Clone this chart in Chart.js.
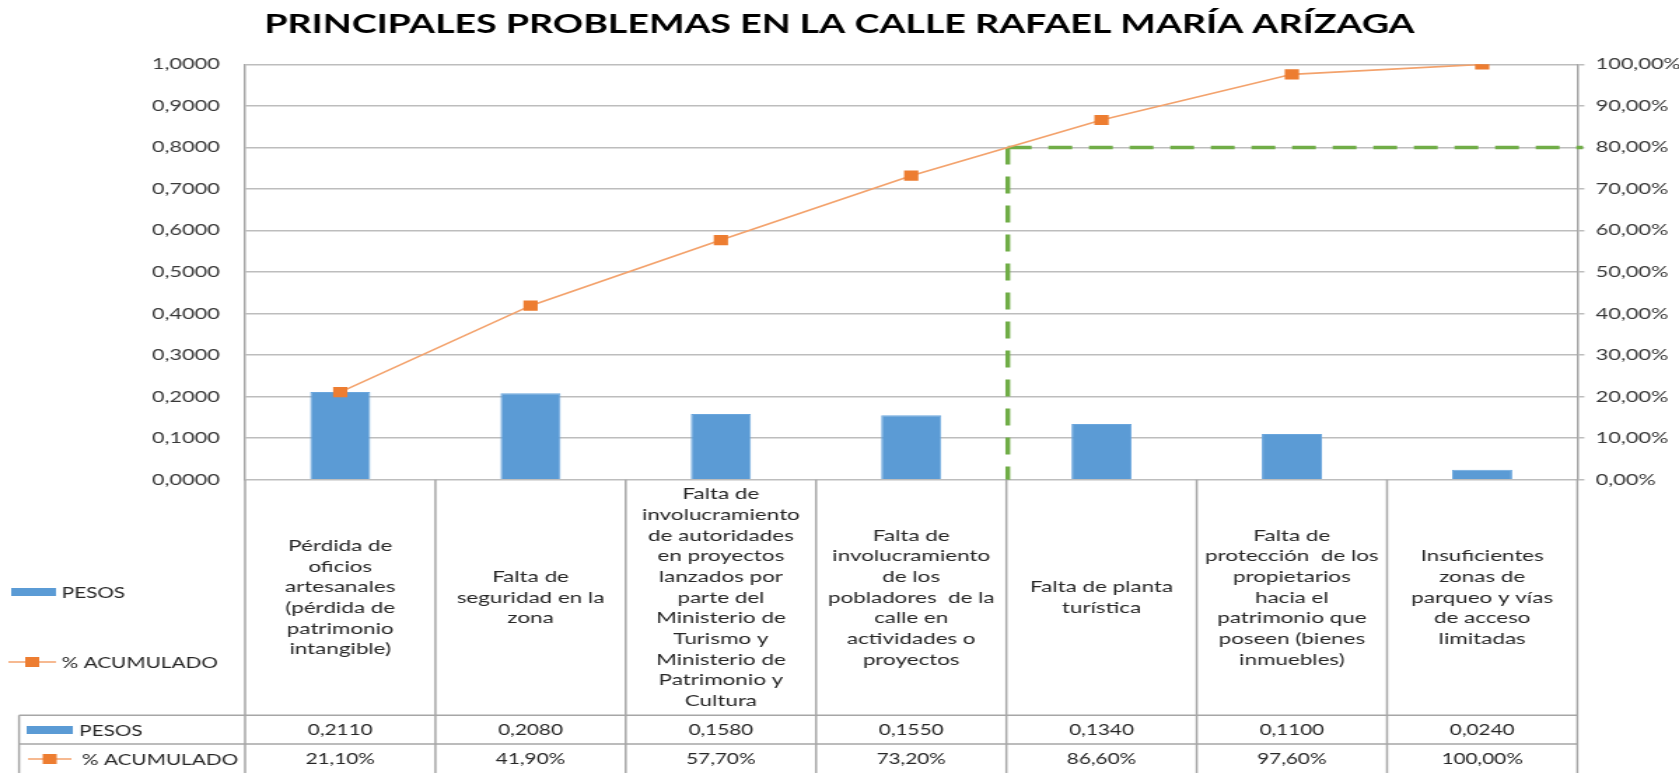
<!DOCTYPE html>
<html>
<head>
<meta charset="utf-8">
<script src="https://cdn.jsdelivr.net/npm/chart.js@4.4.1/dist/chart.umd.min.js"></script>
<style>
  html, body { margin: 0; padding: 0; background: #fff; overflow: hidden; }
  /* the reference is stretched sideways, so the canvas is drawn narrower and widened by css */
  #chart { display: block; width: 1679px !important; height: 773px !important; }
</style>
</head>
<body>
<canvas id="chart" width="1199" height="773" style="width:1679px;height:773px"></canvas>
<script>
var titleText = 'PRINCIPALES PROBLEMAS EN LA CALLE RAFAEL MARÍA ARÍZAGA';

var categories = [
  ['Pérdida de', 'oficios', 'artesanales', '(pérdida de', 'patrimonio', 'intangible)'],
  ['Falta de', 'seguridad en la', 'zona'],
  ['Falta de', 'involucramiento', 'de autoridades', 'en proyectos', 'lanzados por', 'parte del', 'Ministerio de', 'Turismo y', 'Ministerio de', 'Patrimonio y', 'Cultura'],
  ['Falta de', 'involucramiento', 'de los', 'pobladores  de la', 'calle en', 'actividades o', 'proyectos'],
  ['Falta de planta', 'turística'],
  ['Falta de', 'protección  de los', 'propietarios', 'hacia el', 'patrimonio que', 'poseen (bienes', 'inmuebles)'],
  ['Insuficientes', 'zonas de', 'parqueo y vías', 'de acceso', 'limitadas']
];

var seriesNames = ['PESOS', '% ACUMULADO'];
var pesos = [0.2110, 0.2080, 0.1580, 0.1550, 0.1340, 0.1100, 0.0240];
var acumulado = [21.10, 41.90, 57.70, 73.20, 86.60, 97.60, 100.00];
var paretoCut = 80;

var pesosTicks = { min: 0, max: 1, step: 0.1 };
var acumTicks = { min: 0, max: 100, step: 10 };

var blue = '#5B9BD5';
var orange = '#ED7D31';
var lineOrange = '#F3A26C';
var green = '#70AD47';
var gridGray = '#BDBDBD';
var tableGray = '#A6A6A6';
var textDark = '#262626';
var FONT = 'Lato';

function fmtPesos(v) { return v.toFixed(4).replace('.', ','); }
function fmtPct(v) { return v.toFixed(2).replace('.', ',') + '%'; }

// green dashed lines at the 80% cut
var paretoPlugin = {
  id: 'paretoCut',
  beforeDatasetsDraw: function (chart) {
    var ctx = chart.ctx, x = chart.scales.x, y1 = chart.scales.y1, area = chart.chartArea;
    var i = 0;
    while (i < acumulado.length - 1 && acumulado[i + 1] < paretoCut) i++;
    var frac = (paretoCut - acumulado[i]) / (acumulado[i + 1] - acumulado[i]);
    var xc = x.getPixelForValue(i) + frac * (x.getPixelForValue(i + 1) - x.getPixelForValue(i));
    var yc = y1.getPixelForValue(paretoCut);
    ctx.save();
    ctx.strokeStyle = green;
    ctx.lineWidth = 3.4;
    ctx.setLineDash([17, 12]);
    ctx.beginPath();
    ctx.moveTo(xc, yc);
    ctx.lineTo(xc, area.bottom);
    ctx.stroke();
    ctx.beginPath();
    ctx.moveTo(xc, yc);
    ctx.lineTo(area.right + 4, yc);
    ctx.stroke();
    ctx.restore();
  }
};

// data table under the plot plus the legend keys
var tablePlugin = {
  id: 'dataTable',
  afterDraw: function (chart) {
    var ctx = chart.ctx, x = chart.scales.x, area = chart.chartArea;
    var n = categories.length;
    var step = x.getPixelForValue(1) - x.getPixelForValue(0);
    var tableLeft = 13.6;
    var row1 = 715.3, row2 = 744, row3 = 773;
    var labelLH = 20.7;

    ctx.save();
    ctx.strokeStyle = tableGray;
    ctx.lineWidth = 1.5;
    ctx.beginPath();
    for (var i = 0; i <= n; i++) {
      var xx = area.left + i * step;
      ctx.moveTo(xx, area.bottom);
      ctx.lineTo(xx, row3);
    }
    ctx.moveTo(tableLeft, row1); ctx.lineTo(area.right, row1);
    ctx.moveTo(tableLeft, row2); ctx.lineTo(area.right, row2);
    ctx.moveTo(tableLeft, row1); ctx.lineTo(tableLeft, row3);
    ctx.stroke();

    // category labels
    ctx.fillStyle = textDark;
    ctx.textAlign = 'center';
    ctx.textBaseline = 'middle';
    ctx.font = '16px ' + FONT;
    var midY = (area.bottom + row1) / 2;
    chart.data.labels.forEach(function (lines, i) {
      var cx = x.getPixelForValue(i);
      var y0 = midY - (lines.length - 1) / 2 * labelLH;
      lines.forEach(function (t, k) { ctx.fillText(t, cx, y0 + k * labelLH); });
    });

    // values
    ctx.font = '14.8px ' + FONT;
    var r1 = (row1 + row2) / 2 + 1, r2 = (row2 + row3) / 2 + 1;
    for (var j = 0; j < n; j++) {
      var cxx = x.getPixelForValue(j);
      ctx.fillText(fmtPesos(pesos[j]), cxx, r1);
      ctx.fillText(fmtPct(acumulado[j]), cxx, r2);
    }

    // legend keys (outside and inside the table)
    function barKey(x0, x1, y) {
      ctx.fillStyle = blue;
      ctx.fillRect(x0, y - 4, x1 - x0, 8);
    }
    function lineKey(x0, x1, y) {
      ctx.strokeStyle = lineOrange;
      ctx.lineWidth = 1.5;
      ctx.beginPath(); ctx.moveTo(x0, y); ctx.lineTo(x1, y); ctx.stroke();
      ctx.fillStyle = orange;
      var m = (x0 + x1) / 2;
      ctx.fillRect(m - 5, y - 5, 10, 10);
    }
    ctx.textAlign = 'left';
    ctx.font = '14.8px ' + FONT;

    barKey(8, 40, 592);
    ctx.fillStyle = textDark; ctx.fillText(seriesNames[0], 44, 593);
    lineKey(6, 40, 662);
    ctx.fillStyle = textDark; ctx.fillText(seriesNames[1], 44, 663);

    barKey(19, 52, 730);
    ctx.fillStyle = textDark; ctx.fillText(seriesNames[0], 56.5, 731);
    lineKey(20, 51, 759);
    ctx.fillStyle = textDark; ctx.fillText(seriesNames[1], 58.5, 760);
    ctx.restore();
  }
};

var ctx = document.getElementById('chart').getContext('2d');
new Chart(ctx, {
  type: 'bar',
  data: {
    labels: categories,
    datasets: [
      {
        type: 'line',
        label: seriesNames[1],
        data: acumulado,
        yAxisID: 'y1',
        borderColor: lineOrange,
        borderWidth: 1.6,
        tension: 0,
        pointStyle: 'rect',
        pointRadius: 7.2,
        pointBackgroundColor: orange,
        pointBorderColor: orange,
        pointBorderWidth: 0,
        order: 0
      },
      {
        label: seriesNames[0],
        data: pesos,
        yAxisID: 'y',
        backgroundColor: blue,
        borderColor: '#6AA6DD',
        borderWidth: 1,
        barPercentage: 0.316,
        categoryPercentage: 1,
        order: 1
      }
    ]
  },
  options: {
    responsive: false,
    devicePixelRatio: 1,
    animation: false,
    layout: { padding: { top: 0, left: 0, right: 0, bottom: 293.3 } },
    plugins: {
      legend: { display: false },
      tooltip: { enabled: false },
      title: {
        display: true,
        text: titleText,
        color: '#000',
        font: { family: FONT, size: 26.8, weight: 'bold' },
        padding: { top: 8, bottom: 24.2 }
      }
    },
    scales: {
      x: { type: 'category', display: false, offset: true },
      y: {
        position: 'left',
        min: pesosTicks.min,
        max: pesosTicks.max,
        afterFit: function (s) { s.width = 175; },
        ticks: {
          stepSize: pesosTicks.step,
          padding: 18,
          color: '#383838',
          font: { family: FONT, size: 15.5 },
          callback: function (v) { return fmtPesos(v); }
        },
        grid: { color: gridGray, lineWidth: 1.5, drawTicks: false },
        border: { display: true, color: tableGray, width: 1.5 }
      },
      y1: {
        position: 'right',
        min: acumTicks.min,
        max: acumTicks.max,
        afterFit: function (s) { s.width = 72.6; },
        ticks: {
          stepSize: acumTicks.step,
          padding: 8,
          color: '#383838',
          font: { family: FONT, size: 15.5 },
          callback: function (v) { return fmtPct(v); }
        },
        grid: { drawOnChartArea: false, color: gridGray, lineWidth: 1.5, tickLength: 5 },
        border: { display: true, color: tableGray, width: 1.5 }
      }
    }
  },
  plugins: [paretoPlugin, tablePlugin]
});
</script>
</body>
</html>
